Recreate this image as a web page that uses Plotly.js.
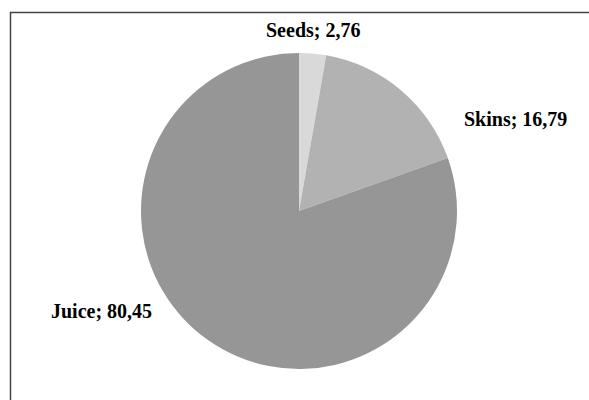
<!DOCTYPE html>
<html>
<head>
<meta charset="utf-8">
<script src="https://cdn.plot.ly/plotly-3.0.1.min.js"></script>
<style>
html,body{margin:0;padding:0;background:#fff;}
#chart{width:589px;height:400px;}
</style>
</head>
<body>
<div id="chart"></div>
<script>
const labels = ["Seeds", "Skins", "Juice"];
const values = [2.76, 16.79, 80.45];
const colors = ["#d9d9d9", "#b2b2b2", "#969696"];
const labelPos = [[313, 30], [515, 119], [101, 311]];

const W = 589, H = 400;
const fmt = v => v.toFixed(2).replace('.', ',');

const annotations = labels.map((l, i) => ({
  text: '<b>' + l + '; ' + fmt(values[i]) + '</b>',
  x: labelPos[i][0] / W, y: 1 - labelPos[i][1] / H,
  xref: 'paper', yref: 'paper', xanchor: 'center', yanchor: 'middle',
  showarrow: false,
  font: {family: 'Liberation Serif, Times New Roman, serif', size: 20, color: '#000'}
}));

const cx = 299, cy = 211, r = 158;
const data = [{
  type: 'pie',
  labels: labels,
  values: values,
  sort: false,
  direction: 'clockwise',
  rotation: 0,
  marker: {colors: colors, line: {width: 0}},
  textinfo: 'none',
  hoverinfo: 'label+value',
  showlegend: false,
  domain: {x: [(cx - r) / W, (cx + r) / W], y: [1 - (cy + r) / H, 1 - (cy - r) / H]}
}];

const layout = {
  width: W, height: H,
  margin: {l: 0, r: 0, t: 0, b: 0},
  paper_bgcolor: '#fff',
  plot_bgcolor: '#fff',
  showlegend: false,
  annotations: annotations,
  shapes: [{
    type: 'rect', xref: 'paper', yref: 'paper',
    x0: 10.5 / W, x1: 1.05, y0: -0.05, y1: 1 - 12.5 / H,
    line: {color: '#444', width: 1.5}
  }]
};

Plotly.newPlot('chart', data, layout, {displayModeBar: false, staticPlot: true});
</script>
</body>
</html>
